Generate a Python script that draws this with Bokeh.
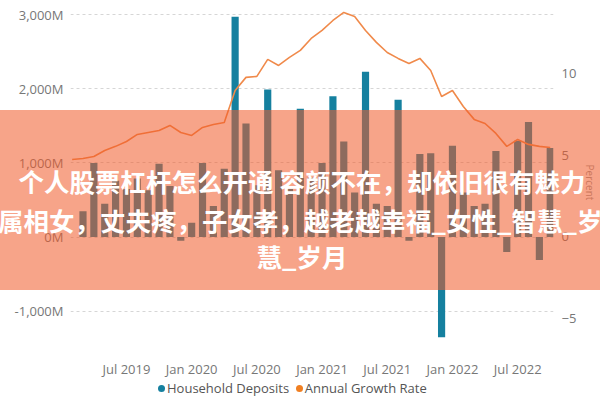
from bokeh.plotting import figure
from bokeh.layouts import column
from bokeh.models import ColumnDataSource, Range1d, LinearAxis, FixedTicker, Div
from bokeh.embed import file_html
from bokeh.resources import INLINE

# ---------------- data ----------------
months = ["2019-02", "2019-03", "2019-04", "2019-05", "2019-06", "2019-07", "2019-08",
          "2019-09", "2019-10", "2019-11", "2019-12", "2020-01", "2020-02", "2020-03",
          "2020-04", "2020-05", "2020-06", "2020-07", "2020-08", "2020-09", "2020-10",
          "2020-11", "2020-12", "2021-01", "2021-02", "2021-03", "2021-04", "2021-05",
          "2021-06", "2021-07", "2021-08", "2021-09", "2021-10", "2021-11", "2021-12",
          "2022-01", "2022-02", "2022-03", "2022-04", "2022-05", "2022-06", "2022-07",
          "2022-08", "2022-09", "2022-10"]

# Household deposits, millions (Mar 2019 .. Oct 2022)
deposit_months = months[1:]
household_deposits = [350, 1000, 450, 760, 650, 790, 630, 990, 690, -50, 195, 1000,
                      420, 920, 2970, 1530, 700, 1990, 900, 650, 1730, 800, 1000, 1900,
                      1290, 600, 2230, 450, 420, 1850, -50, 1120, 1130, -1350, 1230, 600,
                      420, 450, 1160, -200, 1300, 1550, -310, 1200]

# Annual growth rate, percent (Feb 2019 .. Oct 2022)
annual_growth_rate = [4.74, 4.80, 4.92, 5.29, 5.54, 5.84, 6.27, 6.39, 6.51, 6.82, 6.39,
                      6.21, 6.70, 6.88, 7.00, 8.96, 9.76, 9.82, 10.86, 10.49, 10.98,
                      11.41, 12.14, 12.63, 13.24, 13.73, 13.49, 12.63, 11.90, 11.28,
                      10.92, 10.61, 10.92, 10.18, 8.59, 8.96, 7.98, 7.19, 6.94, 6.33,
                      5.54, 5.96, 5.66, 5.54, 5.47]

x_tick_months = ["2019-07", "2020-01", "2020-07", "2021-01", "2021-07", "2022-01", "2022-07"]
x_tick_labels = ["Jul 2019", "Jan 2020", "Jul 2020", "Jan 2021", "Jul 2021", "Jan 2022", "Jul 2022"]

left_ticks = [-1000, 0, 1000, 2000, 3000]
left_tick_labels = ["-1,000M", "0M", "1,000M", "2,000M", "3,000M"]
right_ticks = [-5, 0, 5, 10]

series_names = ["Household Deposits", "Annual Growth Rate"]

banner_lines = ["个人股票杠杆怎么开通 容颜不在，却依旧很有魅力",
                "属相女，丈夫疼，子女孝，越老越幸福_女性_智慧_岁",
                "慧_岁月"]

# ---------------- styling ----------------
TEAL = "#15809F"
ORANGE = "#F08A4B"
ORANGE_DOT = "#F07F22"
GREY = "#777777"
FONT = "Open Sans"

pos = {m: i for i, m in enumerate(months)}

bar_src = ColumnDataSource(dict(x=[pos[m] for m in deposit_months], top=household_deposits))
line_src = ColumnDataSource(dict(x=[pos[m] for m in months], y=annual_growth_rate))

p = figure(width=600, height=400, output_backend="svg", toolbar_location=None,
           x_range=Range1d(-0.15, 44.3), y_range=Range1d(-1582, 3054),
           min_border_left=70, min_border_right=42, min_border_top=10, min_border_bottom=46)
p.outline_line_color = None
p.background_fill_color = "white"
p.border_fill_color = "white"
p.xgrid.visible = False
p.ygrid.grid_line_dash = "3 3"
p.ygrid.grid_line_color = "#d6d6d6"
p.ygrid.grid_line_width = 1

p.extra_y_ranges = {"pct": Range1d(-7.19, 13.85)}

p.yaxis.ticker = FixedTicker(ticks=left_ticks)
p.yaxis.major_label_overrides = {t: l for t, l in zip(left_ticks, left_tick_labels)}
p.xaxis.ticker = FixedTicker(ticks=[pos[m] for m in x_tick_months])
p.xaxis.major_label_overrides = {pos[m]: l for m, l in zip(x_tick_months, x_tick_labels)}

ra = LinearAxis(y_range_name="pct", ticker=FixedTicker(ticks=right_ticks),
                axis_label="Percent")
p.add_layout(ra, "right")

for ax in p.axis:
    ax.axis_line_color = None
    ax.major_tick_line_color = None
    ax.minor_tick_line_color = None
    ax.major_tick_out = 0
    ax.minor_tick_out = 0
    ax.major_label_text_color = GREY
    ax.major_label_text_font = FONT
    ax.major_label_text_font_size = "13px"
p.yaxis[0].major_label_standoff = 7
ra.major_label_standoff = 8
ra.axis_label_standoff = 4
ra.axis_label_text_font = FONT
ra.axis_label_text_font_size = "10px"
ra.axis_label_text_font_style = "normal"
ra.axis_label_text_color = "#999999"
p.xaxis.major_label_standoff = 5

p.vbar(x="x", top="top", bottom=0, width=0.66, source=bar_src,
       fill_color=TEAL, line_color=None)
p.line(x="x", y="y", source=line_src, y_range_name="pct",
       line_color=ORANGE, line_width=1.6)

# ---------------- overlay banner and legend (HTML) ----------------
banner_html = (
    '<div style="position:relative;width:600px;height:180px;overflow:hidden;'
    'background:rgba(240,90,40,0.55);font-family:\'Noto Sans CJK SC\';font-weight:bold;'
    'font-size:25.5px;color:#ffffff;line-height:30px;">'
    f'<div style="position:absolute;left:0px;top:56px;width:604px;text-align:center;white-space:nowrap;">{banner_lines[0]}</div>'
    f'<div style="position:absolute;left:-2px;top:95px;white-space:nowrap;">{banner_lines[1]}</div>'
    f'<div style="position:absolute;left:0px;top:131px;width:604px;text-align:center;white-space:nowrap;">{banner_lines[2]}</div>'
    '</div>')
banner = Div(text=banner_html, width=600, height=180, margin=0,
             styles={"position": "absolute", "left": "0px", "top": "110px", "z-index": "10"})


def dot(c):
    return (f'<span style="display:inline-block;width:7px;height:7px;border-radius:50%;'
            f'background:{c};margin-right:2px;vertical-align:middle;position:relative;top:-1px;"></span>')


legend_html = (
    f'<div style="font-family:\'Open Sans\';font-size:13px;color:#555555;white-space:nowrap;line-height:16px;">'
    f'{dot(TEAL)}{series_names[0]}&nbsp;&nbsp;{dot(ORANGE_DOT)}{series_names[1]}</div>')
legend_div = Div(text=legend_html, width=300, height=16, margin=0,
                 styles={"position": "absolute", "left": "158px", "top": "380px", "z-index": "5"})

layout = column(p, banner, legend_div, width=600, height=400)

open("out.html", "w").write(file_html(layout, INLINE))
